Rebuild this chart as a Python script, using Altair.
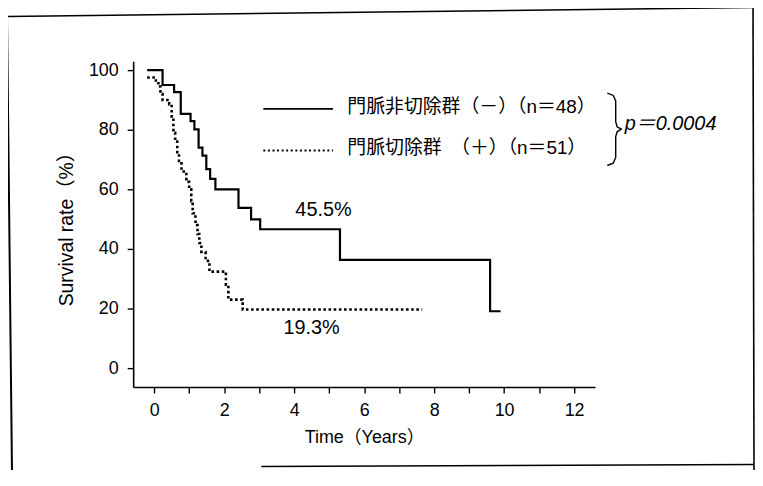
import altair as alt
import pandas as pd

# Kaplan-Meier steps (time in years, survival in %)
solid_t = [-0.2, 0.24, 0.57, 0.76, 1.04, 1.15, 1.27, 1.38, 1.49, 1.6, 1.75, 2.41, 2.77, 3.03, 5.31, 9.6, 9.9]
solid_s = [100, 95, 92.6, 85.3, 82.9, 80.1, 74, 71.3, 66.8, 63.5, 60, 53.8, 49.9, 46.6, 36.3, 19.1, 19.1]

dotted_t = [-0.2, 0.05, 0.12, 0.18, 0.24, 0.43, 0.5, 0.55, 0.6, 0.66, 0.71, 0.78, 0.92, 1.0, 1.06, 1.1,
            1.18, 1.24, 1.29, 1.35, 1.47, 1.58, 2.05, 2.12, 2.53, 7.66]
dotted_s = [97.5, 96.5, 94.5, 92, 90, 88.5, 84, 79, 76, 72, 69.5, 66, 62.5, 60, 56, 52,
            48, 45, 42, 39, 36, 32.4, 28, 23, 19.7, 19.7]

legend_labels = ["門脈非切除群（－）（n＝48）", "門脈切除群　（＋）（n＝51）"]
legend_style = ["solid", "dotted"]
legend_x0 = [3.12, 3.12]
legend_x1 = [5.11, 5.11]
legend_y = [87, 73]
legend_text_x = [5.52, 5.52]
legend_text_y = [87.7, 73.7]

brace_t = [12.95, 13.12, 13.19, 13.19, 13.23, 13.35, 13.23, 13.19, 13.19, 13.12, 12.95]
brace_s = [92.3, 91.5, 89.7, 82.7, 81.0, 80.2, 79.3, 77.7, 70.7, 68.8, 68.0]

annot_text = ["45.5%", "19.3%"]
annot_t = [4.84, 4.5]
annot_s = [53.0, 13.3]

p_text = ["p＝0.0004"]
p_t = [13.45]
p_s = [82.0]

x_ticks = list(range(0, 13))
y_ticks = [0, 20, 40, 60, 80, 100]

LATIN = "Liberation Sans"
MIXED = "Liberation Sans, Noto Sans CJK JP"

xs = alt.Scale(domain=[-0.6, 12.6], nice=False, zero=False)
ys = alt.Scale(domain=[-6.33, 103], nice=False, zero=False)

solid_df = pd.DataFrame({"t": solid_t, "s": solid_s})
dotted_df = pd.DataFrame({"t": dotted_t, "s": dotted_s})
leg_df = pd.DataFrame({"label": legend_labels, "style": legend_style, "x0": legend_x0,
                       "x1": legend_x1, "y": legend_y, "tx": legend_text_x, "ty": legend_text_y})
brace_df = pd.DataFrame({"t": brace_t, "s": brace_s, "o": list(range(len(brace_t)))})
annot_df = pd.DataFrame({"text": annot_text, "t": annot_t, "s": annot_s})
p_df = pd.DataFrame({"text": p_text, "t": p_t, "s": p_s})
dummy = pd.DataFrame({"a": [0]})

x_axis = alt.Axis(values=x_ticks, labelExpr="datum.value % 2 == 0 ? datum.label : ''",
                  title="Time（Years）", grid=False, tickSize=6, tickWidth=1.4, domainWidth=1.6,
                  domainColor="black", tickColor="black", labelColor="black", labelFont=LATIN,
                  labelFontSize=18, labelPadding=9, titleFont=MIXED, titleFontSize=18,
                  titleFontWeight="normal", titleColor="black", titlePadding=9)
y_axis = alt.Axis(values=y_ticks, title="Survival rate（%）", grid=False, tickSize=6, tickWidth=1.4,
                  domainWidth=1.6, domainColor="black", tickColor="black", labelColor="black",
                  labelFont=LATIN, labelFontSize=18, labelPadding=9, titleFont=MIXED,
                  titleFontSize=19.5, titleFontWeight="normal", titleColor="black", titlePadding=12)


def X(field):
    return alt.X(field, scale=xs, axis=x_axis)


def Y(field):
    return alt.Y(field, scale=ys, axis=y_axis)


solid = alt.Chart(solid_df).mark_line(interpolate="step-after", color="black", strokeWidth=2.2).encode(
    x=X("t:Q"), y=Y("s:Q"))
dotted = alt.Chart(dotted_df).mark_line(interpolate="step-after", color="black", strokeWidth=2.6,
                                        strokeDash=[2.6, 2.6]).encode(x=X("t:Q"), y=Y("s:Q"))

leg_solid = alt.Chart(leg_df).transform_filter("datum.style == 'solid'").mark_rule(
    color="black", strokeWidth=2).encode(x=X("x0:Q"), x2="x1:Q", y=Y("y:Q"))
leg_dot = alt.Chart(leg_df).transform_filter("datum.style == 'dotted'").mark_rule(
    color="black", strokeWidth=2, strokeDash=[2, 2.6]).encode(x=X("x0:Q"), x2="x1:Q", y=Y("y:Q"))
leg_text = alt.Chart(leg_df).mark_text(align="left", baseline="middle", font=MIXED, fontSize=19,
                                       color="black").encode(x=X("tx:Q"), y=Y("ty:Q"), text="label:N")

brace = alt.Chart(brace_df).mark_line(color="black", strokeWidth=1.4).encode(
    x=X("t:Q"), y=Y("s:Q"), order="o:Q")

annots = alt.Chart(annot_df).mark_text(align="center", baseline="middle", font=LATIN, fontSize=20,
                                       color="black").encode(x=X("t:Q"), y=Y("s:Q"), text="text:N")
ptext = alt.Chart(p_df).mark_text(align="left", baseline="middle", font=MIXED, fontSize=20,
                                  fontStyle="italic", color="black").encode(
    x=X("t:Q"), y=Y("s:Q"), text="text:N")

# frame around the figure (scan slightly tilted)
frame_top = alt.Chart(dummy).mark_rule(color="black", strokeWidth=1.6).encode(
    x=alt.value(-127), y=alt.value(-45), x2=alt.value(625), y2=alt.value(-54))
frame_left = alt.Chart(dummy).mark_rule(color="black", strokeWidth=2).encode(
    x=alt.value(-127), y=alt.value(-45), x2=alt.value(-122), y2=alt.value(412))
frame_right = alt.Chart(dummy).mark_rule(color="black", strokeWidth=1.6).encode(
    x=alt.value(624), y=alt.value(-54), x2=alt.value(625), y2=alt.value(412))
frame_bottom = alt.Chart(dummy).mark_rule(color="black", strokeWidth=1.6).encode(
    x=alt.value(129), y=alt.value(408), x2=alt.value(625), y2=alt.value(406))

chart = alt.layer(
    solid, dotted, leg_solid, leg_dot, leg_text, brace, annots, ptext,
    frame_top, frame_left, frame_right, frame_bottom,
).properties(
    width=465, height=328,
    padding={"left": 126, "top": 52, "right": 161, "bottom": 82},
    autosize=alt.AutoSizeParams(type="none"),
    background="white",
).configure_view(stroke=None)

chart.save("out.html", embed_options={"renderer": "svg", "actions": False})
